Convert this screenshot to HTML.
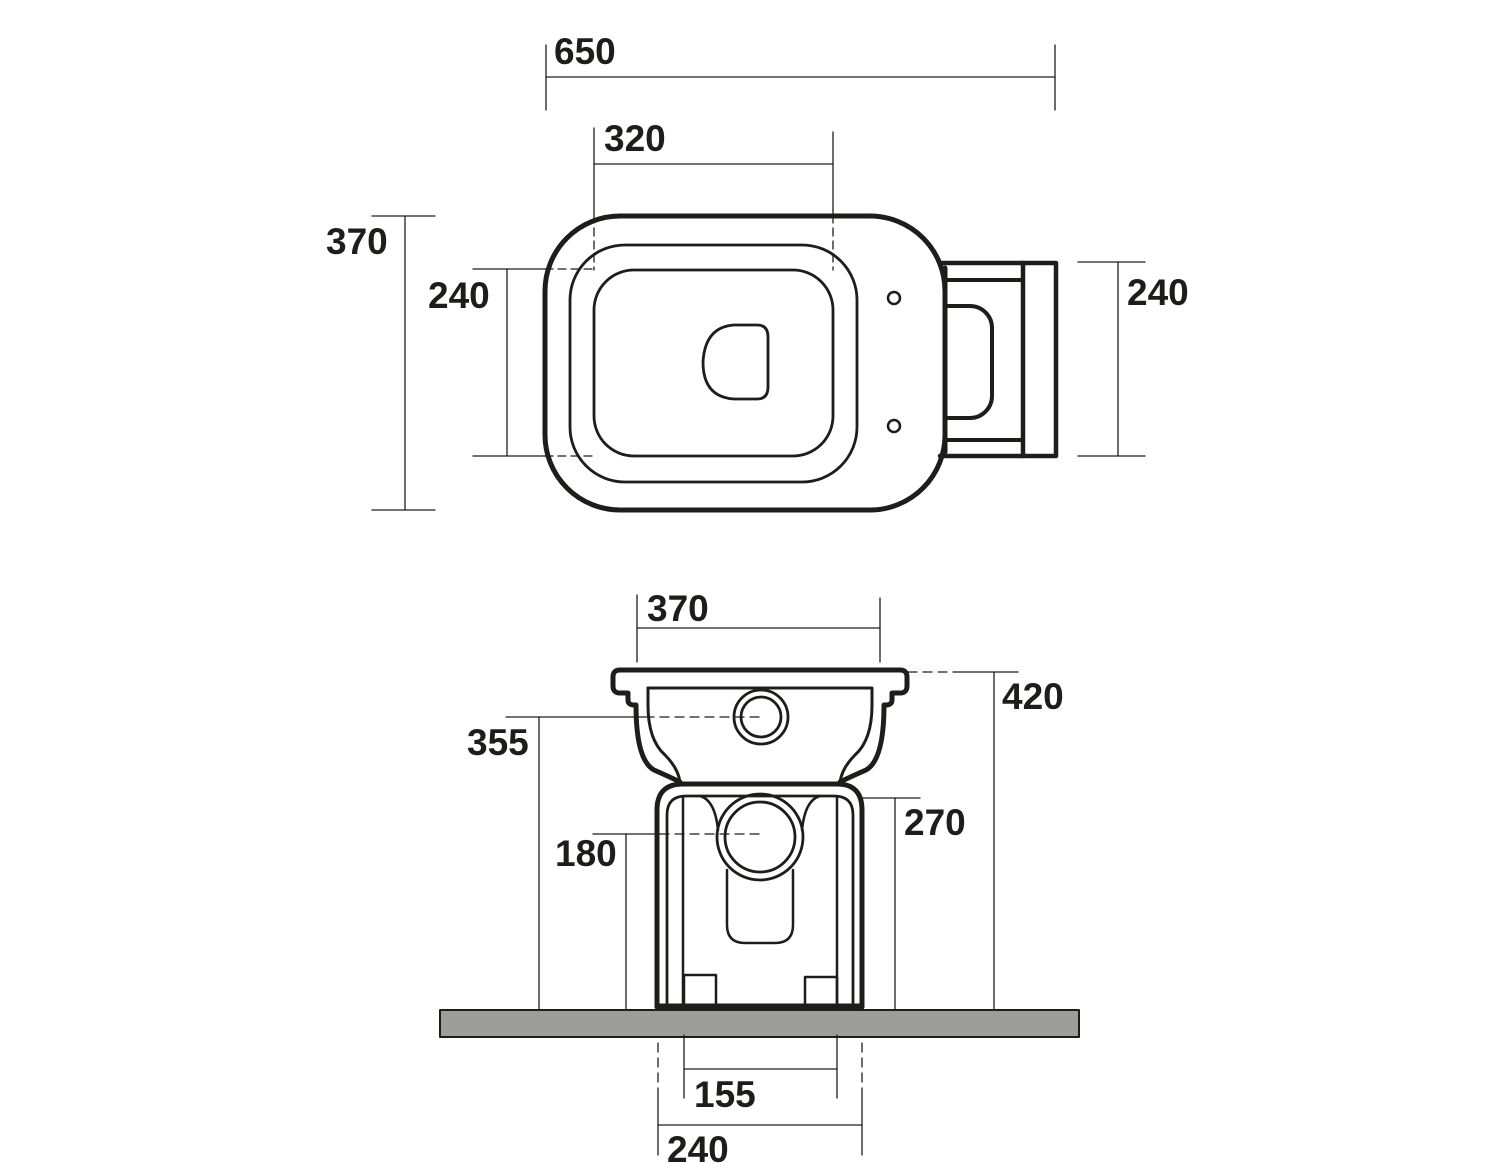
<!DOCTYPE html>
<html><head><meta charset="utf-8"><style>
html,body{margin:0;padding:0;background:#fff}
svg{display:block}
text{font-family:"Liberation Sans",Arial,sans-serif;font-weight:bold;font-size:37px;fill:#1d1d1b}
</style></head><body>
<svg width="1500" height="1163" viewBox="0 0 1500 1163" xmlns="http://www.w3.org/2000/svg">
<g fill="none" stroke="#1d1d1b" stroke-linecap="round" stroke-linejoin="round">
<!-- TOP VIEW -->
<path d="M620,216 H870 A75,75 0 0 1 945,291 V435 A75,75 0 0 1 870,510 H620 A75,75 0 0 1 545,435 V291 A75,75 0 0 1 620,216 Z" stroke-width="5"/>
<rect x="570" y="245" width="287" height="237" rx="55" stroke-width="2.8"/>
<rect x="594" y="270" width="239" height="186" rx="40" stroke-width="2.8"/>
<path d="M734,325 H757 Q768,325 768,337 V387 Q768,399 757,399 H734 Q703,397 703,362 Q705,327 734,325 Z" stroke-width="2.8"/>
<circle cx="894" cy="298" r="6" stroke-width="2.5"/>
<circle cx="894" cy="426" r="6" stroke-width="2.5"/>
<!-- tank -->
<path d="M940,263 H1056 V456 H940" stroke-width="4.5"/>
<line x1="1023" y1="263" x2="1023" y2="456" stroke-width="4.5"/>
<line x1="945" y1="280" x2="1023" y2="280" stroke-width="4"/>
<line x1="945" y1="440" x2="1023" y2="440" stroke-width="4"/>
<path d="M945,306 H970 A22,22 0 0 1 992,328 V396 A22,22 0 0 1 970,418 H945" stroke-width="4"/>
<line x1="945" y1="268" x2="945" y2="452" stroke-width="5"/>

<!-- dims top -->
<g stroke-width="1.3">
<line x1="546" y1="77" x2="1055" y2="77"/>
<line x1="546" y1="45" x2="546" y2="110"/>
<line x1="1055" y1="45" x2="1055" y2="110"/>
<line x1="594" y1="164" x2="833" y2="164"/>
<line x1="594" y1="128" x2="594" y2="215"/>
<line x1="833" y1="132" x2="833" y2="215"/>
<line x1="594" y1="215" x2="594" y2="270" stroke-dasharray="8,5"/>
<line x1="833" y1="215" x2="833" y2="270" stroke-dasharray="8,5"/>
<line x1="405" y1="216" x2="405" y2="510"/>
<line x1="372" y1="216" x2="435" y2="216"/>
<line x1="372" y1="510" x2="435" y2="510"/>
<line x1="507" y1="269" x2="507" y2="456"/>
<line x1="473" y1="269" x2="545" y2="269"/>
<line x1="473" y1="456" x2="545" y2="456"/>
<line x1="545" y1="269" x2="594" y2="269" stroke-dasharray="8,5"/>
<line x1="545" y1="456" x2="594" y2="456" stroke-dasharray="8,5"/>
<line x1="1118" y1="262" x2="1118" y2="456"/>
<line x1="1078" y1="262" x2="1145" y2="262"/>
<line x1="1078" y1="456" x2="1145" y2="456"/>
</g>

<!-- FRONT VIEW -->
<rect x="440" y="1010" width="639" height="27" fill="#9d9d9c" stroke-width="2"/>
<!-- rim & bowl -->
<path d="M680,782 Q670,777 654,770 Q636,760 636,705 H634 Q628,705 628,700 V693 H620 Q613,693 613,686 V677 Q613,670 620,670 H900 Q907,670 907,677 V686 Q907,693 900,693 H892 V700 Q892,705 886,705 H884 Q884,760 866,770 Q850,777 840,782" stroke-width="5"/>
<path d="M648,688 H872 V705 Q872,740 855,755 Q842,768 840,782" stroke-width="3"/>
<path d="M648,688 V705 Q648,740 665,755 Q678,768 680,782" stroke-width="3"/>
<circle cx="761" cy="717" r="27" stroke-width="2.8"/>
<circle cx="761" cy="717" r="20" stroke-width="2.8"/>
<!-- pedestal -->
<path d="M657,1007 V810 Q657,784 683,784 H837 Q862,784 862,810 V1007 Z" stroke-width="5"/>
<path d="M667,1005 V815 Q667,796 686,796 H834 Q853,796 853,815 V1005" stroke-width="2.8"/>
<line x1="683" y1="796" x2="683" y2="1005" stroke-width="2.5"/>
<line x1="837" y1="796" x2="837" y2="1005" stroke-width="2.5"/>
<path d="M700,796 Q715,800 718,830" stroke-width="2.5"/>
<path d="M820,796 Q805,800 802,830" stroke-width="2.5"/>
<circle cx="760" cy="837" r="43" stroke-width="2.8"/>
<circle cx="760" cy="837" r="35" stroke-width="2.8"/>
<path d="M727,870 V925 Q727,943 745,943 H775 Q793,943 793,925 V870" stroke-width="2.5"/>
<rect x="684" y="975" width="32" height="30" stroke-width="2.5"/>
<rect x="805" y="977" width="32" height="28" stroke-width="2.5"/>
<line x1="657" y1="1006" x2="862" y2="1006" stroke-width="5"/>

<!-- dims front -->
<g stroke-width="1.3">
<line x1="637" y1="628" x2="880" y2="628"/>
<line x1="637" y1="595" x2="637" y2="662"/>
<line x1="880" y1="598" x2="880" y2="662"/>
<line x1="994" y1="672" x2="994" y2="1010"/>
<line x1="955" y1="672" x2="1018" y2="672"/>
<line x1="908" y1="672" x2="955" y2="672" stroke-dasharray="9,6"/>
<line x1="539" y1="717" x2="539" y2="1010"/>
<line x1="506" y1="717" x2="645" y2="717"/>
<line x1="645" y1="717" x2="760" y2="717" stroke-dasharray="9,6"/>
<line x1="895" y1="798" x2="895" y2="1010"/>
<line x1="862" y1="798" x2="920" y2="798"/>
<line x1="626" y1="834" x2="626" y2="1010"/>
<line x1="593" y1="834" x2="660" y2="834"/>
<line x1="660" y1="834" x2="760" y2="834" stroke-dasharray="9,6"/>
<line x1="684" y1="1069" x2="837" y2="1069"/>
<line x1="684" y1="1035" x2="684" y2="1098"/>
<line x1="837" y1="1035" x2="837" y2="1098"/>
<line x1="658" y1="1125" x2="862" y2="1125"/>
<line x1="658" y1="1043" x2="658" y2="1090" stroke-dasharray="9,6"/>
<line x1="862" y1="1043" x2="862" y2="1090" stroke-dasharray="9,6"/>
<line x1="658" y1="1090" x2="658" y2="1155"/>
<line x1="862" y1="1090" x2="862" y2="1155"/>
</g>
</g>
<text x="554" y="64">650</text>
<text x="604" y="151">320</text>
<text x="326" y="254">370</text>
<text x="428" y="308">240</text>
<text x="1127" y="305">240</text>
<text x="647" y="621">370</text>
<text x="1002" y="709">420</text>
<text x="467" y="755">355</text>
<text x="904" y="835">270</text>
<text x="555" y="866">180</text>
<text x="694" y="1107">155</text>
<text x="667" y="1162">240</text>
</svg>
</body></html>
